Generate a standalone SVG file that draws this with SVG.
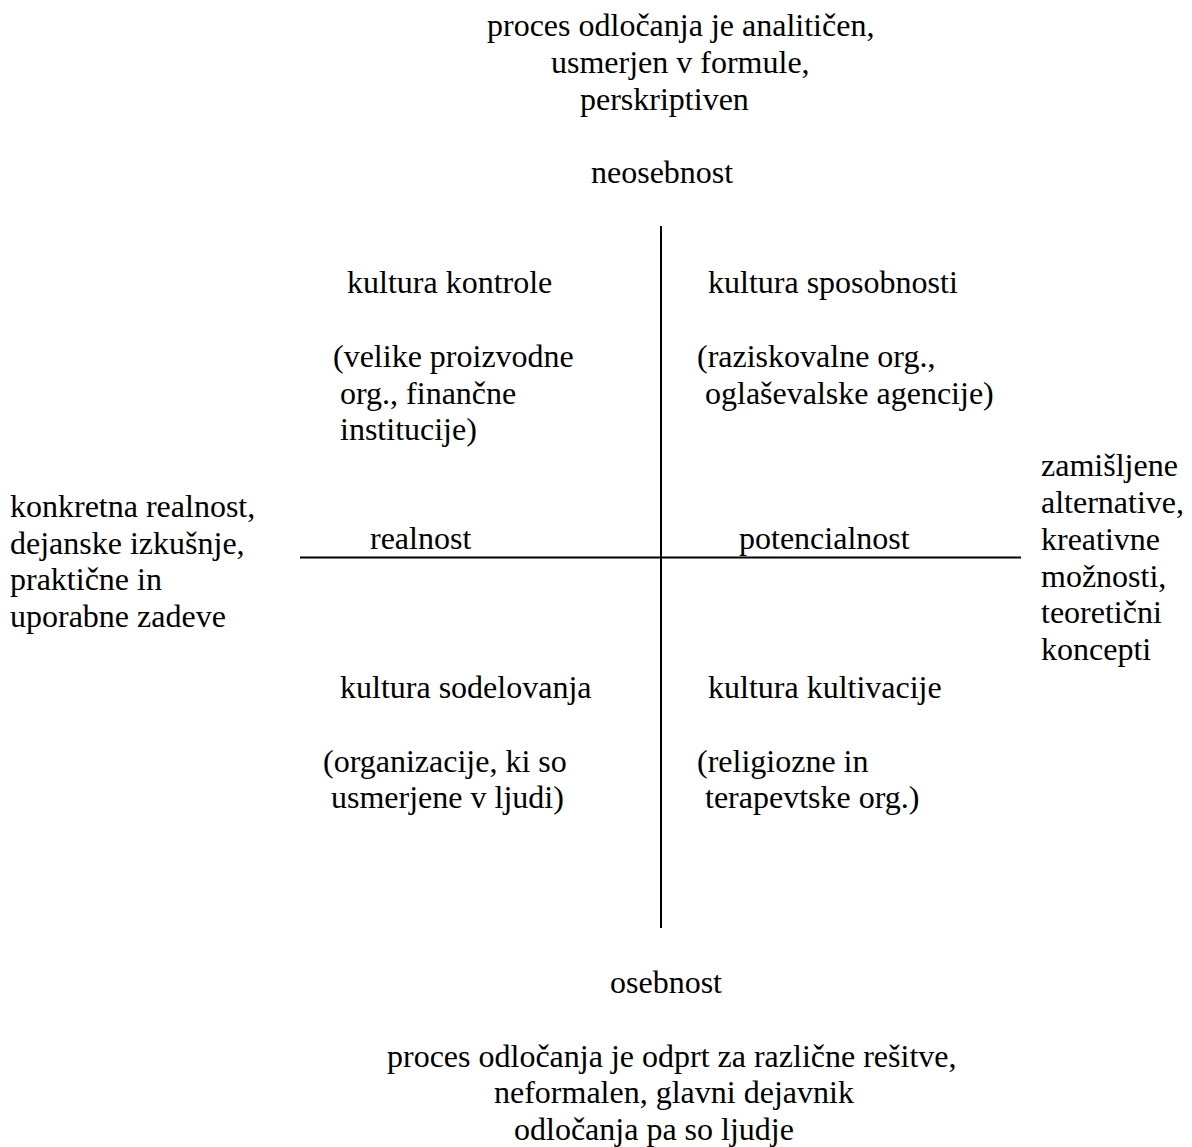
<svg xmlns="http://www.w3.org/2000/svg" width="1192" height="1147" viewBox="0 0 1192 1147">
<style>
text{font-family:"Liberation Serif","Times New Roman",serif;font-size:32px;fill:#000}
.ax{stroke:#000;stroke-width:2;fill:none}
</style>
<rect width="1192" height="1147" fill="#fff"/>
<g id="connectors">
<line class="ax" x1="661" y1="226" x2="661" y2="928"/>
<line class="ax" x1="300" y1="557.5" x2="1021" y2="557.5"/>
</g>
<g id="top-label">
<text x="487" y="36">proces odločanja je analitičen,</text>
<text x="551" y="73">usmerjen v formule,</text>
<text x="580" y="110">perskriptiven</text>
<text x="591" y="183">neosebnost</text>
</g>
<g id="q-control">
<text x="347" y="293">kultura kontrole</text>
<text x="333" y="367">(velike proizvodne</text>
<text x="340" y="404">org., finančne</text>
<text x="340" y="440">institucije)</text>
</g>
<g id="q-ability">
<text x="708" y="293">kultura sposobnosti</text>
<text x="697" y="367">(raziskovalne org.,</text>
<text x="705" y="404">oglaševalske agencije)</text>
</g>
<g id="left-label">
<text x="10" y="517">konkretna realnost,</text>
<text x="10" y="554">dejanske izkušnje,</text>
<text x="10" y="590">praktične in</text>
<text x="10" y="627">uporabne zadeve</text>
</g>
<g id="axis-labels">
<text x="370" y="549">realnost</text>
<text x="739" y="549">potencialnost</text>
</g>
<g id="right-label">
<text x="1041" y="476">zamišljene</text>
<text x="1041" y="513">alternative,</text>
<text x="1041" y="550">kreativne</text>
<text x="1041" y="587">možnosti,</text>
<text x="1041" y="623">teoretični</text>
<text x="1041" y="660">koncepti</text>
</g>
<g id="q-cooperation">
<text x="340" y="698">kultura sodelovanja</text>
<text x="323" y="772">(organizacije, ki so</text>
<text x="331" y="808">usmerjene v ljudi)</text>
</g>
<g id="q-cultivation">
<text x="708" y="698">kultura kultivacije</text>
<text x="697" y="772">(religiozne in</text>
<text x="705" y="808">terapevtske org.)</text>
</g>
<g id="bottom-label">
<text x="610" y="993">osebnost</text>
<text x="387" y="1067">proces odločanja je odprt za različne rešitve,</text>
<text x="494" y="1103">neformalen, glavni dejavnik</text>
<text x="514" y="1140">odločanja pa so ljudje</text>
</g>
</svg>
